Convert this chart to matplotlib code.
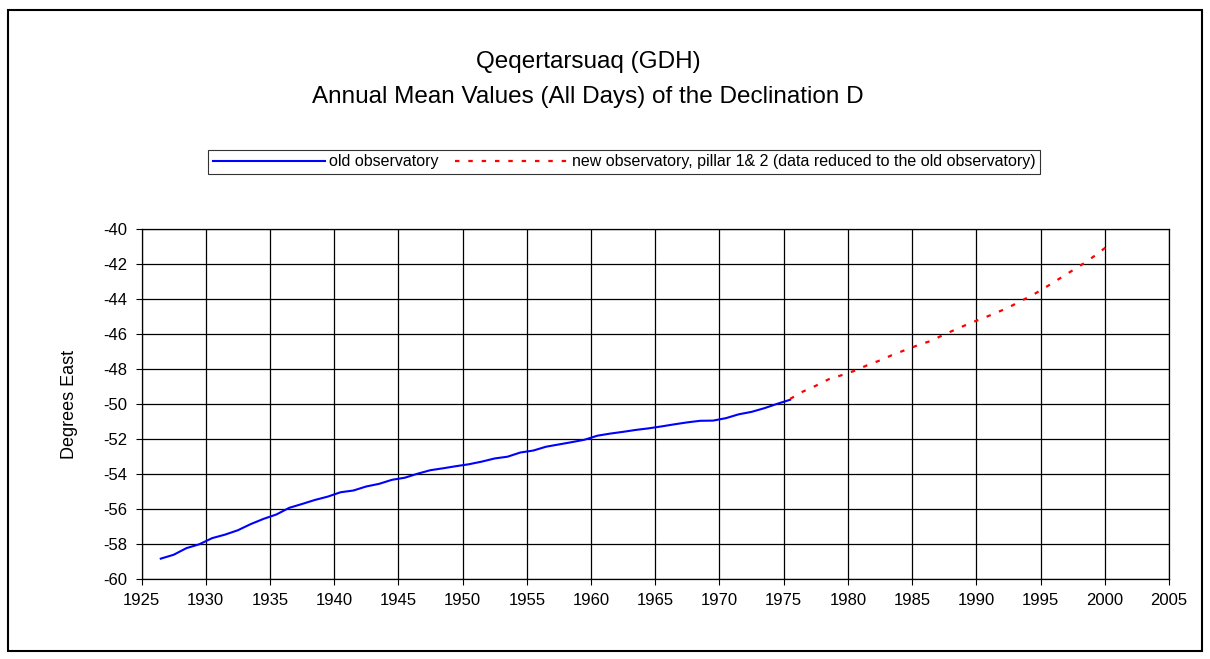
import matplotlib.pyplot as plt
from matplotlib.patches import Rectangle

# =========================================================
# DATA (annual means, plotted at mid-year)
# =========================================================

old_years = [1926.5, 1927.5, 1928.5, 1929.5, 1930.5, 1931.5, 1932.5, 1933.5, 1934.5, 1935.5,
             1936.5, 1937.5, 1938.5, 1939.5, 1940.5, 1941.5, 1942.5, 1943.5, 1944.5, 1945.5,
             1946.5, 1947.5, 1948.5, 1949.5, 1950.5, 1951.5, 1952.5, 1953.5, 1954.5, 1955.5,
             1956.5, 1957.5, 1958.5, 1959.5, 1960.5, 1961.5, 1962.5, 1963.5, 1964.5, 1965.5,
             1966.5, 1967.5, 1968.5, 1969.5, 1970.5, 1971.5, 1972.5, 1973.5, 1974.5, 1975.5]
old_decl = [-58.82, -58.60, -58.22, -58.00, -57.65, -57.45, -57.20, -56.85, -56.55, -56.30,
            -55.92, -55.70, -55.47, -55.28, -55.03, -54.93, -54.70, -54.55, -54.32, -54.20,
            -53.97, -53.77, -53.66, -53.54, -53.43, -53.28, -53.10, -53.00, -52.76, -52.65,
            -52.43, -52.30, -52.17, -52.03, -51.80, -51.68, -51.58, -51.47, -51.38, -51.27,
            -51.15, -51.04, -50.95, -50.94, -50.80, -50.58, -50.44, -50.23, -49.98, -49.75]

new_years = [1975.5, 1976.5, 1977.5, 1978.5, 1979.5, 1980.5, 1981.5, 1982.5, 1983.5, 1984.5,
             1985.5, 1986.5, 1987.5, 1988.5, 1989.5, 1990.5, 1991.5, 1992.5, 1993.5, 1994.5,
             1995.5, 1996.5, 1997.5, 1998.5, 1999.5, 2000.5]
new_decl = [-49.70, -49.28, -48.95, -48.58, -48.35, -48.10, -47.78, -47.50, -47.18, -46.90,
            -46.62, -46.38, -46.02, -45.70, -45.38, -45.10, -44.80, -44.48, -44.10, -43.72,
            -43.28, -42.82, -42.36, -41.90, -41.38, -40.80]

x_ticks = list(range(1925, 2006, 5))
y_ticks = list(range(-60, -39, 2))

# =========================================================
# PLOT
# =========================================================

plt.rcParams["font.family"] = ["Liberation Sans", "DejaVu Sans"]
plt.rcParams["axes.unicode_minus"] = False

fig = plt.figure(figsize=(12.1, 6.59), dpi=100)

# outer chart frame
fig.patches.append(Rectangle((8 / 1210, 1 - 651 / 659), 1194 / 1210, 641 / 659,
                             transform=fig.transFigure, fill=False,
                             edgecolor="black", linewidth=1.5))

ax = fig.add_axes([141.5 / 1210, 1 - 579.3 / 659, (1169 - 141.5) / 1210, (579.3 - 229) / 659])

ax.plot(old_years, old_decl, color="#0000FF", linewidth=1.5, label="old observatory")
ax.plot(new_years, new_decl, color="#FF0000", linewidth=1.6, linestyle=(0, (2, 4)),
        label="new observatory, pillar 1& 2 (data reduced to the old observatory)")

ax.set_xlim(1925, 2005)
ax.set_ylim(-60, -40)
ax.set_xticks(x_ticks)
ax.set_yticks(y_ticks)
ax.tick_params(labelsize=12, length=4, color="black", pad=6)
ax.grid(True, color="black", linewidth=0.9)
for sp in ax.spines.values():
    sp.set_color("black")
    sp.set_linewidth(0.9)

ax.set_ylabel("Degrees East", fontsize=13, labelpad=18)

fig.text(0.486, 1 - 62 / 659, "Qeqertarsuaq (GDH)", ha="center", va="center", fontsize=17.5)
fig.text(0.486, 1 - 97 / 659, "Annual Mean Values (All Days) of the Declination D",
         ha="center", va="center", fontsize=17.5)

leg = fig.legend(loc="center", bbox_to_anchor=(624 / 1210, 1 - 162 / 659), ncol=2,
                 fontsize=11.5, frameon=True, fancybox=False, edgecolor="black",
                 handlelength=7, handletextpad=0.3, columnspacing=1.0,
                 borderpad=0.3)
leg.get_frame().set_linewidth(0.8)

fig.savefig("out.png", dpi=100)
